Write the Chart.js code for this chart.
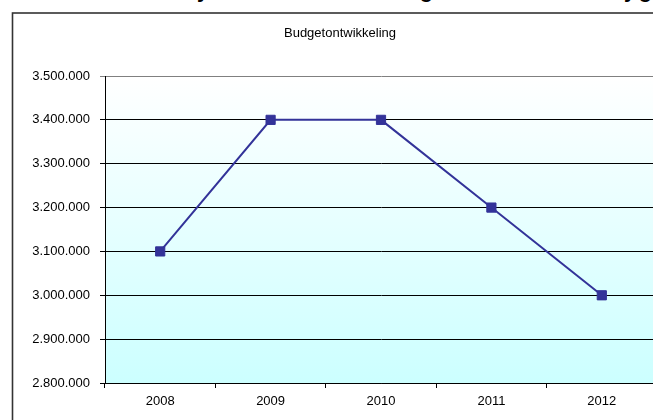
<!DOCTYPE html>
<html>
<head>
<meta charset="utf-8">
<script src="https://cdn.jsdelivr.net/npm/chart.js@4"></script>
<style>
  html, body { margin: 0; padding: 0; background: #fff; overflow: hidden; width: 653px; height: 420px; }
  #wrap { position: absolute; left: 0; top: 0; width: 680px; height: 420px; }
  #cut { position: absolute; left: 0; top: 0; width: 653px; height: 11px; overflow: hidden; }
  #cut span { position: absolute; top: -21px; font: bold 21px "Liberation Sans", Arial, sans-serif; color: #000; }
</style>
</head>
<body>
<div id="cut">
  <span style="left:197px">y</span>
  <span style="left:420px">g</span>
  <span style="left:624px">y</span>
  <span style="left:639px">g</span>
</div>
<div id="wrap"><canvas id="chart" width="680" height="420"></canvas></div>
<script>
const years = ["2008", "2009", "2010", "2011", "2012"];
const budget = [3100000, 3400000, 3400000, 3200000, 3000000];
const yMin = 2800000;
const yMax = 3500000;
const yStep = 100000;

const fmt = v => String(v).replace(/\B(?=(\d{3})+(?!\d))/g, ".");

// background gradient in the plot + outer frame of the chart object
const frame = {
  id: "frame",
  beforeDraw(c) {
    const { ctx, chartArea: a } = c;
    const g = ctx.createLinearGradient(0, a.top, 0, a.bottom);
    g.addColorStop(0, "#ffffff");
    g.addColorStop(1, "#ccffff");
    ctx.save();
    ctx.fillStyle = g;
    ctx.fillRect(a.left, a.top, a.right - a.left, a.bottom - a.top);
    ctx.strokeStyle = "#333";
    ctx.lineWidth = 1.6;
    ctx.strokeRect(12.5, 13, 656, 440);
    ctx.restore();
  }
};

new Chart(document.getElementById("chart").getContext("2d"), {
  type: "line",
  data: {
    labels: years,
    datasets: [{
      data: budget,
      borderColor: "#333399",
      backgroundColor: "#333399",
      borderWidth: 2,
      pointStyle: "rect",
      pointRadius: 6.5,
      pointBorderWidth: 1,
      pointBorderColor: "#333399",
      tension: 0
    }]
  },
  options: {
    responsive: false,
    animation: false,
    layout: { padding: 0 },
    plugins: {
      legend: { display: false },
      tooltip: { enabled: false },
      title: {
        display: true,
        text: "Budgetontwikkeling",
        color: "#000",
        font: { family: "'Liberation Sans', Arial, sans-serif", size: 13, weight: "normal" },
        padding: { top: 25.2, bottom: 35.2 }
      }
    },
    scales: {
      x: {
        offset: true,
        afterFit: s => { s.height = 37; },
        grid: { offset: true, drawOnChartArea: false, drawTicks: true, tickLength: 5, color: "#000" },
        border: { color: "#000", width: 1 },
        ticks: { color: "#000", padding: 6, font: { family: "'Liberation Sans', Arial, sans-serif", size: 13 } }
      },
      y: {
        min: yMin,
        max: yMax,
        afterFit: s => { s.width = 105; },
        grid: {
          color: ctx => (ctx.tick && ctx.tick.value === yMax ? "#808080" : "#000"),
          lineWidth: 1,
          tickLength: 5
        },
        border: { color: "#000", width: 1 },
        ticks: {
          stepSize: yStep,
          color: "#000",
          padding: 10,
          font: { family: "'Liberation Sans', Arial, sans-serif", size: 13 },
          callback: v => fmt(v)
        }
      },
      // empty right margin inside the chart object (keeps the title centred on the frame)
      yPad: {
        position: "right",
        min: yMin,
        max: yMax,
        afterFit: s => { s.width = 23; },
        grid: { display: false, drawTicks: false },
        border: { display: false },
        ticks: { display: false }
      }
    }
  },
  plugins: [frame]
});
</script>
</body>
</html>
